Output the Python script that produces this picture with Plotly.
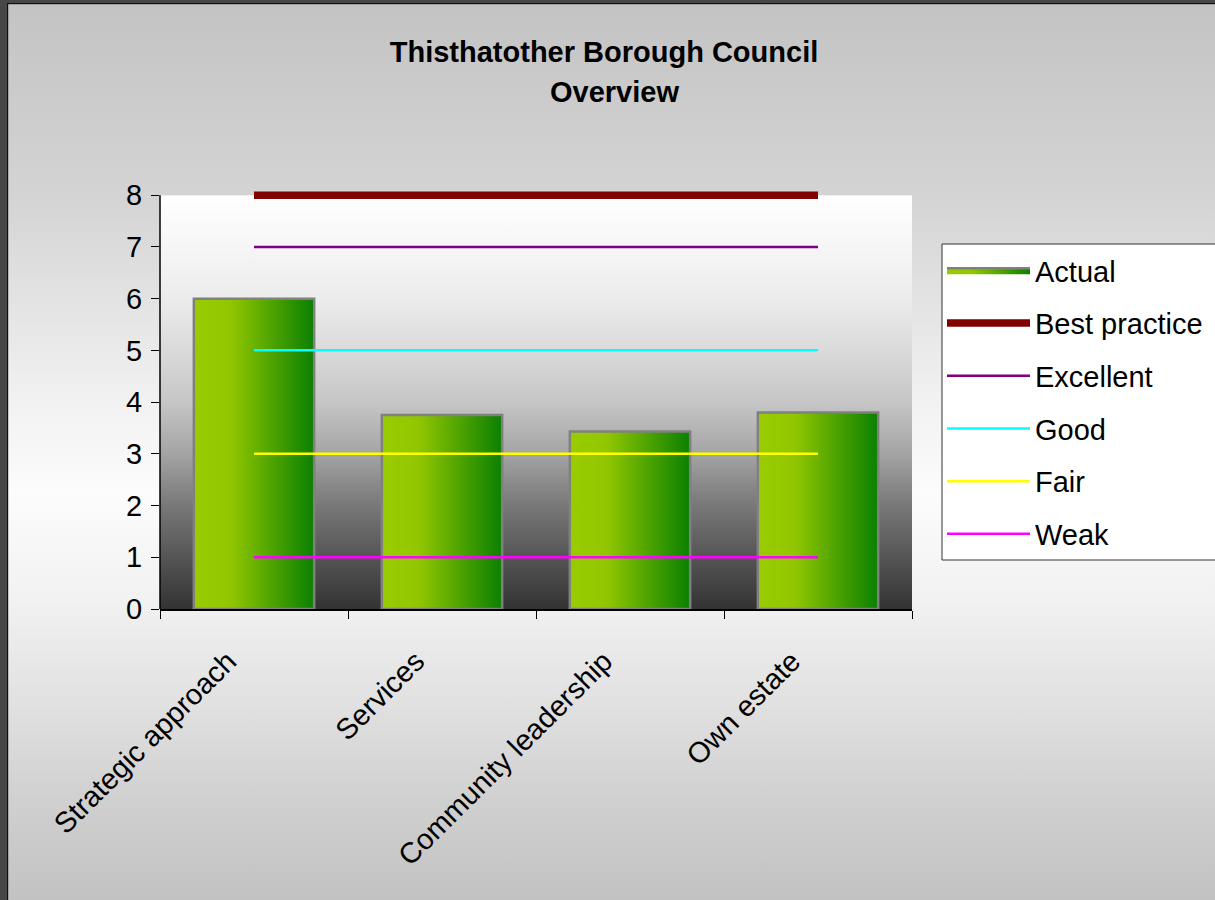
import base64
import plotly.graph_objects as go

# ---------------- data ----------------
categories = ["Strategic approach", "Services", "Community leadership", "Own estate"]
actual = [6.0, 3.75, 3.43, 3.8]
best_practice = [8, 8, 8, 8]
excellent = [7, 7, 7, 7]
good = [5, 5, 5, 5]
fair = [3, 3, 3, 3]
weak = [1, 1, 1, 1]
y_ticks = [0, 1, 2, 3, 4, 5, 6, 7, 8]

title_line1 = "Thisthatother Borough Council"
title_line2 = "Overview"

# ---------------- geometry / style ----------------
W, H = 1215, 900
Y_MAX = 8          # top of the chart's value scale
Y_TOP = 8.1        # a little headroom so the thick 8-line is not clipped
PL, PR, PB = 160, 912, 609
UNIT = 51.75       # px per value unit
PT = round(PB - Y_TOP * UNIT)
FONT = "Liberation Sans, Arial, sans-serif"
FS = 29
BAR_HALF = 0.32
LEG_L, LEG_T, LEG_B = 942, 244, 560

page_svg = f'''<svg xmlns="http://www.w3.org/2000/svg" width="{W}" height="{H}" viewBox="0 0 {W} {H}" preserveAspectRatio="none">
<defs><linearGradient id="g" x1="0" y1="0" x2="0" y2="1">
<stop offset="0" stop-color="#c3c3c3"/>
<stop offset="0.22" stop-color="#d4d4d4"/>
<stop offset="0.45" stop-color="#f2f2f2"/>
<stop offset="0.55" stop-color="#fcfcfc"/>
<stop offset="0.67" stop-color="#f1f1f1"/>
<stop offset="0.78" stop-color="#e1e1e1"/>
<stop offset="0.89" stop-color="#d0d0d0"/>
<stop offset="1" stop-color="#c2c2c2"/>
</linearGradient></defs>
<rect x="0" y="0" width="{W}" height="{H}" fill="url(#g)"/>
<rect x="0" y="0" width="{W}" height="3" fill="#474747"/>
<rect x="0" y="0" width="7" height="{H}" fill="#474747"/>
<rect x="7" y="3" width="{W}" height="1.2" fill="#111111"/>
<rect x="7" y="3" width="1.2" height="{H}" fill="#111111"/>
</svg>'''

plot_svg = '''<svg xmlns="http://www.w3.org/2000/svg" width="100" height="100" viewBox="0 0 100 100" preserveAspectRatio="none">
<defs><linearGradient id="p" x1="0" y1="0" x2="0" y2="1">
<stop offset="0" stop-color="#ffffff"/>
<stop offset="0.125" stop-color="#f6f6f6"/>
<stop offset="0.25" stop-color="#ececec"/>
<stop offset="0.375" stop-color="#dadada"/>
<stop offset="0.5" stop-color="#c6c6c6"/>
<stop offset="0.625" stop-color="#a4a4a4"/>
<stop offset="0.75" stop-color="#787878"/>
<stop offset="0.875" stop-color="#555555"/>
<stop offset="1" stop-color="#333333"/>
</linearGradient></defs>
<rect x="0" y="0" width="100" height="100" fill="url(#p)"/>
</svg>'''


def data_uri(svg):
    return "data:image/svg+xml;base64," + base64.b64encode(svg.encode()).decode()


pw, ph = PR - PL, PB - PT

fig = go.Figure()

# bars: gradient-filled polygons on the linear base x axis
for i, v in enumerate(actual):
    fig.add_trace(go.Scatter(
        x=[i - BAR_HALF, i + BAR_HALF, i + BAR_HALF, i - BAR_HALF, i - BAR_HALF],
        y=[0, 0, v, v, 0],
        mode="lines", fill="toself",
        fillgradient=dict(type="horizontal",
                          colorscale=[[0, "#99cc00"], [0.3, "#92c700"], [1, "#0a8000"]]),
        line=dict(color="#808080", width=2.5),
        name="Actual", legendgroup="actual", showlegend=(i == 0),
        xaxis="x", yaxis="y",
        hoverinfo="text", text=f"{categories[i]}: {v}",
    ))

lines = [
    ("Best practice", best_practice, "#800000", 7.5),
    ("Excellent", excellent, "#800080", 2.5),
    ("Good", good, "#00ffff", 2.5),
    ("Fair", fair, "#ffff00", 2.5),
    ("Weak", weak, "#ff00ff", 2.5),
]
for name, vals, col, w in lines:
    fig.add_trace(go.Scatter(
        x=categories, y=vals, mode="lines", name=name, legendgroup=name,
        line=dict(color=col, width=w), xaxis="x2", yaxis="y",
    ))

fig.update_layout(
    width=W, height=H,
    margin=dict(l=PL, r=W - PR, t=PT, b=H - PB, autoexpand=False),
    paper_bgcolor="#ffffff",
    plot_bgcolor="rgba(0,0,0,0)",
    font=dict(family=FONT, color="#000000", size=FS),
    title=dict(
        text="<b>" + title_line1 + "</b>",
        x=604 / W, xanchor="center", xref="container",
        y=1 - 52 / H, yanchor="middle", yref="container",
        font=dict(size=FS, family=FONT, color="#000000"),
    ),
    annotations=[dict(
        text="<b>" + title_line2 + "</b>", showarrow=False,
        xref="paper", yref="paper",
        x=(614 - PL) / pw, y=(PB - 92) / ph, xanchor="center", yanchor="middle",
        font=dict(size=FS, family=FONT, color="#000000"),
    )],
    xaxis=dict(range=[-0.5, 3.5], visible=False, fixedrange=True),
    xaxis2=dict(
        type="category", overlaying="x", side="bottom",
        categoryorder="array", categoryarray=categories,
        range=[-0.5, 3.5], tickson="boundaries",
        ticks="outside", ticklen=8, tickwidth=1.2, tickcolor="#000000",
        showline=True, linecolor="#000000", linewidth=1.5,
        showgrid=False, zeroline=False, tickangle=-45,
        ticklabelstandoff=22, ticklabelshift=-26,
        tickfont=dict(size=FS, family=FONT, color="#000000"),
    ),
    yaxis=dict(
        range=[0, Y_TOP], tickvals=y_ticks, ticktext=[str(t) for t in y_ticks],
        ticks="outside", ticklen=8, tickwidth=1.2, tickcolor="#000000",
        showline=False, showgrid=False, zeroline=False, ticklabelstandoff=3,
        tickfont=dict(size=FS, family=FONT, color="#000000"),
    ),
    shapes=[
        dict(type="line", xref="paper", yref="y", x0=0, x1=0, y0=0, y1=Y_MAX,
             line=dict(color="#000000", width=1.5), layer="above"),
        # legend box (runs off the right edge, as in the original)
        dict(type="rect", xref="paper", yref="paper",
             x0=(LEG_L - PL) / pw, x1=(W + 20 - PL) / pw,
             y0=(PB - LEG_B) / ph, y1=(PB - LEG_T) / ph,
             fillcolor="#ffffff", line=dict(color="#333333", width=1), layer="above"),
    ],
    legend=dict(
        x=(LEG_L - PL) / pw, y=(PB - LEG_T - 1) / ph, xanchor="left", yanchor="top",
        bgcolor="rgba(0,0,0,0)", borderwidth=0,
        font=dict(size=FS, family=FONT, color="#000000"),
        itemwidth=83, tracegroupgap=12, traceorder="grouped",
    ),
    images=[
        dict(source=data_uri(page_svg), xref="paper", yref="paper",
             x=-PL / pw, y=PB / ph, sizex=W / pw, sizey=H / ph,
             xanchor="left", yanchor="top", sizing="stretch", layer="below"),
        dict(source=data_uri(plot_svg), xref="paper", yref="y",
             x=0, y=Y_MAX, sizex=1, sizey=Y_MAX,
             xanchor="left", yanchor="top", sizing="stretch", layer="below"),
    ],
    showlegend=True,
)

fig.write_html("out.html", config={"displayModeBar": False},
               post_script="document.body.style.margin='0';")
